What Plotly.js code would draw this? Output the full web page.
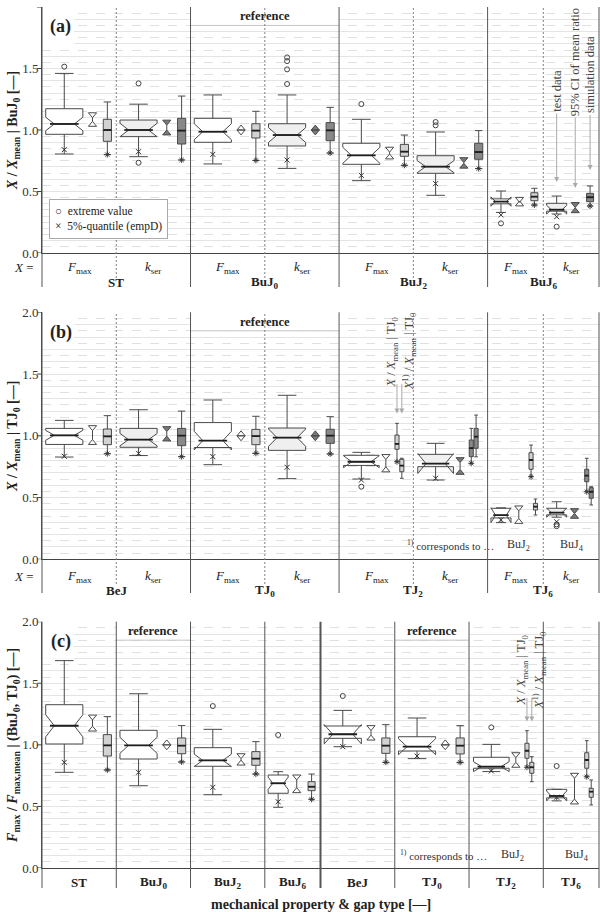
<!DOCTYPE html>
<html><head><meta charset="utf-8">
<script src="https://cdn.plot.ly/plotly-3.0.1.min.js"></script>
<style>html,body{margin:0;padding:0;background:#fff}#chart{width:600px;height:912px}</style>
</head><body><div id="chart"></div>
<script>
// ================= DATA =================
// ---- Panel (a): X / X_mean | BuJ0 ----
const catsA = ['ST|Fmax','ST|kser','BuJ0|Fmax','BuJ0|kser','BuJ2|Fmax','BuJ2|kser','BuJ6|Fmax','BuJ6|kser'];
const testA_hi    = [1.46, 1.21, 1.285, 1.285, 1.087, 0.984, 0.504, 0.463];
const testA_q3    = [1.173, 1.081, 1.095, 1.051, 0.892, 0.791, 0.44, 0.404];
const testA_med   = [1.049, 1.0, 0.986, 0.959, 0.794, 0.702, 0.418, 0.352];
const testA_q1    = [0.965, 0.946, 0.9, 0.87, 0.721, 0.648, 0.40, 0.34];
const testA_lo    = [0.805, 0.783, 0.724, 0.688, 0.588, 0.469, 0.33, 0.33];
const testA_notch = [0.055, 0.055, 0.065, 0.06, 0.065, 0.05, 0.038, 0.035];
const testA_q05   = [0.84, 0.824, 0.802, 0.756, 0.631, 0.564, 0.31, 0.295];
const outA_cat = ['ST|Fmax','ST|kser','ST|kser','BuJ0|kser','BuJ0|kser','BuJ0|kser','BuJ0|kser','BuJ2|Fmax','BuJ2|kser','BuJ2|kser','BuJ6|Fmax','BuJ6|kser'];
const outA_val = [1.515, 1.379, 0.734, 1.59, 1.56, 1.493, 1.374, 1.211, 1.065, 1.038, 0.241, 0.214];
const ciA_lo = [1.03, 0.96, 1.0, 1.0, 0.765, 0.69, 0.383, 0.328];
const ciA_hi = [1.14, 1.08, 1.0, 1.0, 0.86, 0.775, 0.452, 0.41];
const simA_hi  = [1.228, 1.276, 1.152, 1.184, 0.959, 0.995, 0.526, 0.545];
const simA_q3  = [1.087, 1.095, 1.051, 1.06, 0.883, 0.892, 0.49, 0.485];
const simA_med = [1.0, 0.995, 0.995, 0.997, 0.824, 0.821, 0.458, 0.453];
const simA_q1  = [0.908, 0.886, 0.935, 0.913, 0.786, 0.762, 0.425, 0.417];
const simA_lo  = [0.8, 0.756, 0.753, 0.813, 0.713, 0.686, 0.39, 0.382];
const simA_q05 = [0.8, 0.756, 0.753, 0.813, 0.713, 0.686, 0.39, 0.382];

// ---- Panel (b): X / X_mean | TJ0 ----
const catsB = ['BeJ|Fmax','BeJ|kser','TJ0|Fmax','TJ0|kser','TJ2|Fmax','TJ2|kser','TJ6|Fmax','TJ6|kser'];
const testB_hi    = [1.125, 1.211, 1.29, 1.328, 0.866, 0.939, 0.413, 0.466];
const testB_q3    = [1.06, 1.06, 1.107, 1.063, 0.842, 0.85, 0.413, 0.413];
const testB_med   = [1.004, 0.969, 0.961, 0.985, 0.79, 0.775, 0.357, 0.378];
const testB_q1    = [0.93, 0.907, 0.905, 0.882, 0.76, 0.75, 0.335, 0.36];
const testB_lo    = [0.828, 0.84, 0.766, 0.653, 0.65, 0.642, 0.297, 0.345];
const testB_notch = [0.04, 0.05, 0.075, 0.07, 0.048, 0.08, 0.06, 0.037];
const testB_q05   = [0.834, 0.858, 0.831, 0.745, 0.642, 0.656, 0.32, 0.304];
const outB_cat = ['TJ2|Fmax','TJ6|kser','TJ6|kser'];
const outB_val = [0.588, 0.283, 0.268];
const ciB_lo = [0.93, 0.958, 1.0, 1.0, 0.708, 0.688, 0.291, 0.332];
const ciB_hi = [1.082, 1.074, 1.0, 1.0, 0.848, 0.823, 0.432, 0.41];
const simB_hi  = [1.163, 1.2, 1.158, 1.155, 1.101, 1.06, 0.925, 0.818];
const simB_q3  = [1.055, 1.06, 1.052, 1.053, 1.006, 0.966, 0.863, 0.729];
const simB_med = [0.996, 1.001, 0.998, 1.001, 0.934, 0.9, 0.804, 0.677];
const simB_q1  = [0.928, 0.92, 0.928, 0.939, 0.891, 0.831, 0.729, 0.628];
const simB_lo  = [0.855, 0.831, 0.858, 0.853, 0.79, 0.777, 0.669, 0.547];
const simB_q05 = [0.855, 0.831, 0.858, 0.853, 0.79, 0.777, 0.669, 0.547];
// second simulation box (X^1) / X_mean | TJ0)
const sim2B_cats = ['TJ2|Fmax','TJ2|kser','TJ6|Fmax','TJ6|kser'];
const sim2B_hi  = [0.818, 1.168, 0.488, 0.588];
const sim2B_q3  = [0.81, 1.06, 0.453, 0.58];
const sim2B_med = [0.758, 0.993, 0.426, 0.547];
const sim2B_q1  = [0.709, 0.899, 0.399, 0.494];
const sim2B_lo  = [0.656, 0.83, 0.359, 0.44];

// ---- Panel (c): F_max / F_max,mean | (BuJ0, TJ0) ----
const catsC = ['ST|Fmax','BuJ0|Fmax','BuJ2|Fmax','BuJ6|Fmax','BeJ|Fmax','TJ0|Fmax','TJ2|Fmax','TJ6|Fmax'];
const testC_hi    = [1.684, 1.415, 1.126, 0.782, 1.28, 1.218, 1.004, 0.639];
const testC_q3    = [1.326, 1.118, 0.977, 0.755, 1.153, 1.066, 0.899, 0.639];
const testC_med   = [1.155, 0.996, 0.874, 0.688, 1.086, 0.985, 0.823, 0.585];
const testC_q1    = [1.007, 0.885, 0.826, 0.607, 1.053, 0.95, 0.81, 0.57];
const testC_lo    = [0.777, 0.668, 0.595, 0.493, 0.985, 0.888, 0.788, 0.56];
const testC_notch = [0.09, 0.065, 0.05, 0.05, 0.078, 0.065, 0.04, 0.04];
const testC_q05   = [0.858, 0.777, 0.655, 0.538, 0.985, 0.909, 0.788, 0.575];
const outC_cat = ['BuJ2|Fmax','BuJ6|Fmax','BeJ|Fmax','TJ2|Fmax','TJ6|Fmax'];
const outC_val = [1.315, 1.08, 1.397, 1.142, 0.828];
const ciC_lo = [1.112, 1.0, 0.836, 0.612, 1.039, 1.0, 0.818, 0.52];
const ciC_hi = [1.242, 1.0, 0.928, 0.755, 1.156, 1.0, 0.936, 0.769];
const simC_hi  = [1.229, 1.156, 1.026, 0.763, 1.164, 1.156, 1.115, 1.034];
const simC_q3  = [1.083, 1.056, 0.945, 0.701, 1.056, 1.056, 1.013, 0.936];
const simC_med = [0.996, 0.993, 0.888, 0.66, 0.993, 0.993, 0.952, 0.877];
const simC_q1  = [0.909, 0.928, 0.834, 0.628, 0.931, 0.926, 0.891, 0.81];
const simC_lo  = [0.796, 0.861, 0.763, 0.558, 0.858, 0.858, 0.818, 0.741];
const simC_q05 = [0.796, 0.861, 0.763, 0.558, 0.858, 0.858, 0.818, 0.741];
const sim2C_cats = ['TJ2|Fmax','TJ6|Fmax'];
const sim2C_hi  = [0.904, 0.715];
const sim2C_q3  = [0.858, 0.647];
const sim2C_med = [0.818, 0.62];
const sim2C_q1  = [0.769, 0.574];
const sim2C_lo  = [0.701, 0.512];

// labels
const groupLabel = {ST:'ST', BuJ0:'BuJ<sub>0</sub>', BuJ2:'BuJ<sub>2</sub>', BuJ6:'BuJ<sub>6</sub>',
                    BeJ:'BeJ', TJ0:'TJ<sub>0</sub>', TJ2:'TJ<sub>2</sub>', TJ6:'TJ<sub>6</sub>'};
const propLabel = {Fmax:'<i>F</i><sub>max</sub>', kser:'<i>k</i><sub>ser</sub>'};
const yTickLabels = [0, 0.5, 1.0, 1.5, 2.0];

// ================= STYLE / GEOMETRY =================
const SERIF = 'Liberation Serif, Times New Roman, DejaVu Serif, serif';
const LINE = '#4a4a4a';
const FILL = {testF:'#ffffff', testK:'#efefef', simF:'#d2d2d2', simK:'#888888', ciF:'#ffffff', ciK:'#7a7a7a'};
const NOTCHW = 0.23;
const OFF = {
  reg:  {test:0.30, ci:0.68, sim:0.88, tw:0.50, sw:0.11},
  reg2: {test:0.30, ci:0.63, sim:0.78, sim2:0.845, tw:0.48, sw:0.055},
  nar:  {test:0.18, ci:0.43, sim:0.63, tw:0.27, sw:0.095},
  nar2: {test:0.18, ci:0.42, sim:0.585, sim2:0.645, tw:0.27, sw:0.055}
};
const PT = 7, PB = 868, PH = 861;        // plot area in px (top, bottom, height)
const pp = py => (PB - py) / PH;          // px -> paper y

const traces = [], shapes = [], annotations = [];
function ann(o) { annotations.push(Object.assign({xanchor:'center', yanchor:'middle', showarrow:false}, o)); }

function slots(cats, twoCats) {
  let s = 0; const out = [];
  cats.forEach(c => {
    const [g, p] = c.split('|');
    const nar = g.endsWith('6');
    const two = twoCats.includes(c);
    const o = nar ? (two ? OFF.nar2 : OFF.nar) : (two ? OFF.reg2 : OFF.reg);
    const w = nar ? 0.75 : 1;
    out.push({cat:c, g, p, start:s, w, nar, two, o});
    s += w;
  });
  return out;
}

function boxT(P, xc, w, st, fill, notched, ww) {
  const t = {type:'box', orientation:'v', xaxis:P.x, yaxis:P.y, x:[xc],
    q1:[st.q1], median:[st.med], q3:[st.q3], lowerfence:[st.lo], upperfence:[st.hi],
    width:w, fillcolor:fill, line:{color:LINE, width:1}, whiskerwidth:ww,
    boxpoints:false, hoverinfo:'skip', showlegend:false};
  if (notched) { t.notched = true; t.notchspan = [st.ns]; t.notchwidth = NOTCHW; }
  return t;
}

function addHourglass(xs, ys, xc, lo, hi) {
  const hw = 0.055, h = 0.04;
  xs.push(xc-hw, xc+hw, xc, xc-hw, null); ys.push(hi, hi, hi-h, hi, null);
  xs.push(xc-hw, xc+hw, xc, xc-hw, null); ys.push(lo, lo, lo+h, lo, null);
  if (hi - lo > 2*h) { xs.push(xc, xc, null); ys.push(hi-h, lo+h, null); }
}

function build(P) {
  const sl = slots(P.cats, P.sim2 ? P.sim2.cats : []);
  P.sl = sl;
  const ciF = {x:[], y:[]}, ciK = {x:[], y:[]};
  const q05x = [], q05y = [], sq05x = [], sq05y = [];
  const medX = [], medY = [];
  const addMed = (xc, half, v) => { medX.push(xc - half, xc + half, null); medY.push(v, v, null); };
  sl.forEach((s, i) => {
    const kser = s.p === 'kser';
    const xt = s.start + s.o.test, xc = s.start + s.o.ci, xs = s.start + s.o.sim;
    traces.push(boxT(P, xt, s.o.tw,
      {q1:P.test.q1[i], med:P.test.med[i], q3:P.test.q3[i], lo:P.test.lo[i], hi:P.test.hi[i], ns:P.test.ns[i]},
      kser ? FILL.testK : FILL.testF, true, 0.5));
    addMed(xt, s.o.tw/2*(1-NOTCHW), P.test.med[i]);
    traces.push(boxT(P, xs, s.o.sw,
      {q1:P.sim.q1[i], med:P.sim.med[i], q3:P.sim.q3[i], lo:P.sim.lo[i], hi:P.sim.hi[i]},
      kser ? FILL.simK : FILL.simF, false, 0.9));
    addMed(xs, s.o.sw/2, P.sim.med[i]);
    if (s.two) {
      const j = P.sim2.cats.indexOf(s.cat);
      const x2 = s.start + s.o.sim2;
      traces.push(boxT(P, x2, s.o.sw,
        {q1:P.sim2.q1[j], med:P.sim2.med[j], q3:P.sim2.q3[j], lo:P.sim2.lo[j], hi:P.sim2.hi[j]},
        kser ? FILL.simK : FILL.simF, false, 0.9));
      addMed(x2, s.o.sw/2, P.sim2.med[j]);
    }
    const ci = kser ? ciK : ciF;
    addHourglass(ci.x, ci.y, xc, P.ci.lo[i], P.ci.hi[i]);
    q05x.push(xt); q05y.push(P.test.q05[i]);
    sq05x.push(xs); sq05y.push(P.sim.q05[i]);
  });
  traces.push({type:'scatter', mode:'lines', xaxis:P.x, yaxis:P.y, x:medX, y:medY,
    line:{color:'#1e1e1e', width:1.8}, hoverinfo:'skip', showlegend:false});
  [[ciF, FILL.ciF], [ciK, FILL.ciK]].forEach(([d, f]) => {
    if (!d.x.length) return;
    traces.push({type:'scatter', mode:'lines', xaxis:P.x, yaxis:P.y, x:d.x, y:d.y, fill:'toself',
      fillcolor:f, line:{color:LINE, width:1}, hoverinfo:'skip', showlegend:false});
  });
  // outliers
  const ox = P.out.cat.map(c => { const s = sl.find(q => q.cat === c); return s.start + s.o.test; });
  traces.push({type:'scatter', mode:'markers', xaxis:P.x, yaxis:P.y, x:ox, y:P.out.val,
    marker:{symbol:'circle-open', size:5, color:'#444', line:{width:1}}, hoverinfo:'skip', showlegend:false, cliponaxis:false});
  traces.push({type:'scatter', mode:'markers', xaxis:P.x, yaxis:P.y, x:q05x, y:q05y,
    marker:{symbol:'x-thin-open', size:5, color:'#333', line:{width:1, color:'#333'}}, hoverinfo:'skip', showlegend:false});
  traces.push({type:'scatter', mode:'markers', xaxis:P.x, yaxis:P.y, x:sq05x, y:sq05y,
    marker:{symbol:'asterisk-open', size:5, color:'#333', line:{width:0.9, color:'#333'}}, hoverinfo:'skip', showlegend:false});
}

const panels = [
  {key:'a', x:'x', y:'y', dom:[pp(253), 1], cats:catsA,
   test:{hi:testA_hi, q3:testA_q3, med:testA_med, q1:testA_q1, lo:testA_lo, ns:testA_notch, q05:testA_q05},
   out:{cat:outA_cat, val:outA_val}, ci:{lo:ciA_lo, hi:ciA_hi},
   sim:{hi:simA_hi, q3:simA_q3, med:simA_med, q1:simA_q1, lo:simA_lo, q05:simA_q05},
   title:'<b><i>X</i> / <i>X</i><sub>mean</sub> | BuJ<sub>0</sub> [—]</b>',
   refs:['BuJ0'], rows:{prop:268, grp:282, solid:287, dash:278}},
  {key:'b', x:'x2', y:'y2', dom:[pp(559.3), pp(312.3)], cats:catsB,
   test:{hi:testB_hi, q3:testB_q3, med:testB_med, q1:testB_q1, lo:testB_lo, ns:testB_notch, q05:testB_q05},
   out:{cat:outB_cat, val:outB_val}, ci:{lo:ciB_lo, hi:ciB_hi},
   sim:{hi:simB_hi, q3:simB_q3, med:simB_med, q1:simB_q1, lo:simB_lo, q05:simB_q05},
   sim2:{cats:sim2B_cats, hi:sim2B_hi, q3:sim2B_q3, med:sim2B_med, q1:sim2B_q1, lo:sim2B_lo},
   title:'<b><i>X</i> / <i>X</i><sub>mean</sub> | TJ<sub>0</sub> [—]</b>',
   refs:['TJ0'], rows:{prop:576, grp:590, solid:593, dash:584}},
  {key:'c', x:'x3', y:'y3', dom:[0, pp(621.7)], cats:catsC,
   test:{hi:testC_hi, q3:testC_q3, med:testC_med, q1:testC_q1, lo:testC_lo, ns:testC_notch, q05:testC_q05},
   out:{cat:outC_cat, val:outC_val}, ci:{lo:ciC_lo, hi:ciC_hi},
   sim:{hi:simC_hi, q3:simC_q3, med:simC_med, q1:simC_q1, lo:simC_lo, q05:simC_q05},
   sim2:{cats:sim2C_cats, hi:sim2C_hi, q3:sim2C_q3, med:sim2C_med, q1:sim2C_q1, lo:sim2C_lo},
   title:'<b><i>F</i><sub>max</sub> / <i>F</i><sub>max,mean</sub> | (BuJ<sub>0</sub>, TJ<sub>0</sub>) [—]</b>',
   refs:['BuJ0','TJ0'], rows:{prop:null, grp:882, solid:888, dash:888}}
];

panels.forEach(build);

// ================= LAYOUT, SHAPES & ANNOTATIONS =================
const gridVals = []; for (let k = 0; k <= 20; k++) gridVals.push(+(k*0.1).toFixed(1));
const layout = {
  width:600, height:912, margin:{l:42, r:1, t:PT, b:912-PB},
  paper_bgcolor:'#fff', plot_bgcolor:'#fff', showlegend:false, hovermode:false,
  boxmode:'overlay', font:{family:SERIF, color:'#222', size:13}
};

// footnote white boxes first (drawn beneath separators)
[[panels[1], 5.0, 0.04, 0.19], [panels[2], 4.75, 0.04, 0.17]].forEach(([P, x0, y0, y1]) =>
  shapes.push({type:'rect', xref:P.x, yref:P.y, x0, x1:7.5, y0, y1, fillcolor:'#fff', line:{width:0}, layer:'between'}));

panels.forEach((P, pi) => {
  const xn = 'xaxis' + (pi ? pi+1 : ''), yn = 'yaxis' + (pi ? pi+1 : '');
  layout[xn] = {domain:[0,1], range:[0,7.5], anchor:P.y, showgrid:false, zeroline:false,
    showticklabels:false, ticks:'', showline:true, linecolor:'#444', linewidth:1, fixedrange:true};
  layout[yn] = {domain:P.dom, range:[0,2], anchor:P.x, tickmode:'array', tickvals:gridVals,
    ticktext:gridVals.map(v => yTickLabels.some(t => Math.abs(t - v) < 1e-6) ? v.toFixed(1) : ''),
    ticks:'', showgrid:true, gridcolor:'#e4e4e4', gridwidth:1,
    minor:{tickmode:'linear', tick0:0, dtick:0.05, showgrid:true, gridcolor:'#e0e0e0', griddash:'dash', ticks:''},
    zeroline:false, showline:true, linecolor:'#444', linewidth:1,
    tickfont:{family:SERIF, size:13, color:'#333'},
    title:{text:P.title, font:{family:SERIF, size:14, color:'#222'}, standoff:1}, fixedrange:true};

  const yTop = P.dom[1], yBotS = pp(P.rows.solid), yBotD = pp(P.rows.dash);
  const sl = P.sl;
  // white label box behind (a)/(b)/(c)
  shapes.push({type:'rect', xref:P.x, yref:P.y, x0:0, x1:0.43, y0:1.7, y1:2.0,
    fillcolor:'#fff', line:{width:0}, layer:'between'});
  // reference boxes
  P.refs.forEach(g => {
    const ss = sl.filter(s => s.g === g);
    const x0 = ss[0].start, x1 = ss[ss.length-1].start + ss[ss.length-1].w;
    shapes.push({type:'rect', xref:P.x, yref:P.y, x0, x1, y0:1.85, y1:2.0, fillcolor:'#fff', line:{width:0}, layer:'between'});
    shapes.push({type:'line', xref:P.x, yref:P.y, x0, x1, y0:1.85, y1:1.85, line:{color:'#c4c4c4', width:1}, layer:'between'});
    ann({xref:P.x, yref:P.y, x:(x0+x1)/2, y:1.925, text:'<b>reference</b>', font:{family:SERIF, size:12.5, color:'#222'}});
  });
  // separators
  for (let i = 1; i < sl.length; i++) {
    const x = sl[i].start;
    const solid = sl[i].g !== sl[i-1].g;
    const thick = sl[i].g === 'BeJ' && P.key === 'c';
    shapes.push({type:'line', xref:P.x, yref:'paper', x0:x, x1:x, y0:solid ? yBotS : yBotD, y1:yTop,
      line:{color:solid ? '#555' : '#808080', width:thick ? 2 : 1, dash:solid ? 'solid' : '2px,2px'}, layer:'above'});
  }
  // outer vertical lines
  [0, 1].forEach(xp => shapes.push({type:'line', xref:'paper', yref:'paper', x0:xp, x1:xp, y0:yBotS, y1:yTop,
    line:{color:'#555', width:1}, layer:'above'}));
  // y tick marks at labelled values
  yTickLabels.forEach(v => shapes.push({type:'line', xref:'paper', yref:P.y, x0:-5/557, x1:0, y0:v, y1:v,
    line:{color:'#444', width:1}, layer:'above'}));
  // panel letter
  ann({xref:P.x, yref:P.y, x:0.25, y:1.84, text:'<b>(' + P.key + ')</b>', font:{family:SERIF, size:18, color:'#222'}});
  // category rows
  if (P.rows.prop !== null) {
    ann({xref:'paper', yref:'paper', x:-0.032, y:pp(P.rows.prop), text:'<i>X</i> =', font:{family:SERIF, size:13, color:'#222'}});
    sl.forEach(s => ann({xref:P.x, yref:'paper', x:s.start + s.w/2, y:pp(P.rows.prop),
      text:propLabel[s.p], font:{family:SERIF, size:13, color:'#222'}}));
    const groups = [...new Set(sl.map(s => s.g))];
    groups.forEach(g => {
      const ss = sl.filter(s => s.g === g);
      const xm = (ss[0].start + ss[ss.length-1].start + ss[ss.length-1].w) / 2;
      ann({xref:P.x, yref:'paper', x:xm, y:pp(P.rows.grp), text:'<b>' + groupLabel[g] + '</b>',
        font:{family:SERIF, size:13, color:'#222'}});
    });
  } else {
    sl.forEach(s => ann({xref:P.x, yref:'paper', x:s.start + s.w/2, y:pp(P.rows.grp),
      text:'<b>' + groupLabel[s.g] + '</b>', font:{family:SERIF, size:13, color:'#222'}}));
  }
});

// legend box in (a)
ann({xref:'x', yref:'y', x:0.1, y:0.44, xanchor:'left', yanchor:'top', align:'left',
  text:'○  extreme value<br>×  5%-quantile (empD)', bgcolor:'#fff',
  bordercolor:'#aaa', borderwidth:1, borderpad:5, font:{family:SERIF, size:11.5, color:'#222'}});

// pointers in (a)
const sA = panels[0].sl.find(s => s.cat === 'BuJ6|kser');
[['test data', sA.o.test, 0.577, -91], ['95% CI of mean ratio', sA.o.ci, 0.528, -126], ['simulation data', sA.o.sim, 0.675, -95]]
  .forEach(([t, o, y, ay]) => ann({xref:'x', yref:'y', x:sA.start + o, y, ax:0, ay, text:t, textangle:-90,
    showarrow:true, arrowhead:2, arrowsize:1, arrowwidth:1, arrowcolor:'#aaa', font:{family:SERIF, size:12.5, color:'#444'}}));

// pointers in (b) and (c)
[[panels[1], 'TJ2|Fmax', 1.18, 1.68, -34], [panels[2], 'TJ2|Fmax', 1.19, 1.61, -28]].forEach(([P, c, yTip, yTxt, ay]) => {
  const s = P.sl.find(q => q.cat === c);
  const x1 = s.start + s.o.sim, x2 = s.start + s.o.sim2;
  ann({xref:P.x, yref:P.y, x:x1 - 0.07, y:yTxt, textangle:-90,
    text:'<i>X</i> / <i>X</i><sub>mean</sub> | TJ<sub>0</sub>', font:{family:SERIF, size:12.5, color:'#444'}});
  ann({xref:P.x, yref:P.y, x:x2 + 0.09, y:yTxt, textangle:-90,
    text:'<i>X</i><sup>1)</sup> / <i>X</i><sub>mean</sub> | TJ<sub>0</sub>', font:{family:SERIF, size:12.5, color:'#444'}});
  [x1, x2].forEach(x => ann({xref:P.x, yref:P.y, x, y:yTip, ax:0, ay, text:' ', showarrow:true,
    arrowhead:2, arrowsize:1, arrowwidth:1, arrowcolor:'#aaa', font:{size:6}}));
});

// footnotes in (b) and (c)
[[panels[1], 0.116, 5.5, 6.41, 7.13], [panels[2], 0.106, 5.4, 6.33, 7.2]]
  .forEach(([P, yt, xa, xb, xc]) => {
    ann({xref:P.x, yref:P.y, x:xa, y:yt, text:'<sup>1)</sup> corresponds to …', font:{family:SERIF, size:11, color:'#333'}});
    ann({xref:P.x, yref:P.y, x:xb, y:yt, text:'BuJ<sub>2</sub>', font:{family:SERIF, size:12, color:'#333'}});
    ann({xref:P.x, yref:P.y, x:xc, y:yt, text:'BuJ<sub>4</sub>', font:{family:SERIF, size:12, color:'#333'}});
  });

// bottom axis title
ann({xref:'paper', yref:'paper', x:0.5, y:pp(904), text:'<b>mechanical property &amp; gap type [—]</b>',
  font:{family:SERIF, size:14, color:'#222'}});

layout.shapes = shapes;
layout.annotations = annotations;
Plotly.newPlot('chart', traces, layout, {staticPlot:true, displayModeBar:false});
</script>
</body></html>
